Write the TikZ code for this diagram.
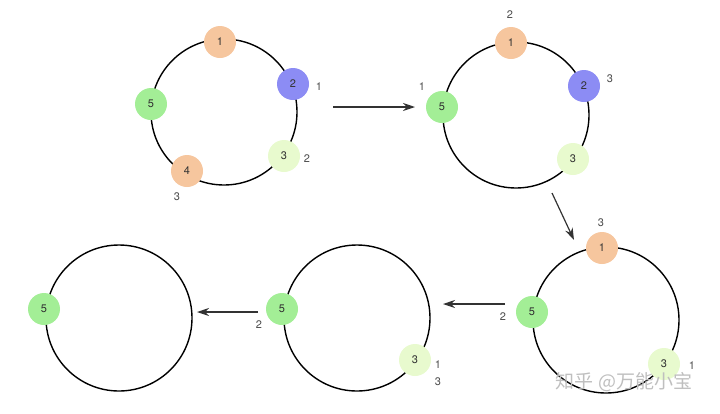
\documentclass[tikz,border=0pt]{standalone}
\usepackage{fontspec}
\setmainfont{TeX Gyre Heros}
\newfontfamily\cjk{Noto Sans CJK SC}
\usetikzlibrary{arrows.meta}

\definecolor{peach}{HTML}{F6C69E}
\definecolor{violet}{HTML}{8C8CF4}
\definecolor{leaf}{HTML}{A3EE96}
\definecolor{pale}{HTML}{E8FACE}

\tikzset{
  ring/.style={draw, circle, line width=1.4pt, minimum size=146pt, inner sep=0pt},
  ball/.style={circle, minimum size=32pt, inner sep=0pt, text=black!80,
    font=\fontsize{11}{13}\selectfont},
  tag/.style={text=black!70, font=\fontsize{11}{13}\selectfont},
  link/.style={-{Stealth[length=12pt,width=8pt]}, line width=1.2pt, black!80},
}

\begin{document}
\begin{tikzpicture}[x=1pt,y=-1pt]
\useasboundingbox (0,0) rectangle (720,413);

% first round
\node[ring] (r1) at (224,112) {};
\node[ball, fill=peach]  (r1a) at (220,42) {1};
\node[ball, fill=violet] (r1b) at (293,84) {2};
\node[ball, fill=pale]   (r1c) at (284,156) {3};
\node[ball, fill=peach]  (r1d) at (187,171) {4};
\node[ball, fill=leaf]   (r1e) at (151,104) {5};
\node[tag] (t1b) at (319,87) {1};
\node[tag] (t1c) at (307,159) {2};
\node[tag] (t1d) at (177,197) {3};

% second round
\node[ring] (r2) at (516,115) {};
\node[ball, fill=peach]  (r2a) at (511,43) {1};
\node[ball, fill=violet] (r2b) at (584,86) {2};
\node[ball, fill=pale]   (r2c) at (573,159) {3};
\node[ball, fill=leaf]   (r2e) at (442,107) {5};
\node[tag] (t2a) at (510,15) {2};
\node[tag] (t2b) at (610,79) {3};
\node[tag] (t2e) at (422,87) {1};

% third round
\node[ring] (r3) at (606,320) {};
\node[ball, fill=peach] (r3a) at (602,248) {1};
\node[ball, fill=pale]  (r3c) at (664,364) {3};
\node[ball, fill=leaf]  (r3e) at (532,312) {5};
\node[tag] (t3a) at (601,223) {3};
\node[tag] (t3c) at (692,366) {1};
\node[tag] (t3e) at (503,317) {2};

% fourth round
\node[ring] (r4) at (357,318) {};
\node[ball, fill=pale] (r4c) at (415,360) {3};
\node[ball, fill=leaf] (r4e) at (282,309) {5};
\node[tag] (t4c) at (438,365) {1};
\node[tag] (t4d) at (438,382) {3};
\node[tag] (t4e) at (259,325) {2};

% last one
\node[ring] (r5) at (119,318) {};
\node[ball, fill=leaf] (r5e) at (44,309) {5};

% arrows
\coordinate (s1) at (333,107);
\coordinate (e1) at (415,107);
\coordinate (s2) at (552,193);
\coordinate (e2) at (574,240);
\coordinate (s3) at (505,304);
\coordinate (e3) at (443,304);
\coordinate (s4) at (258,312);
\coordinate (e4) at (197,312);
\draw[link] (s1) -- (e1);
\draw[link] (s2) -- (e2);
\draw[link] (s3) -- (e3);
\draw[link] (s4) -- (e4);

\node[text=black!25, font=\cjk\fontsize{19}{20}\selectfont] (mark) at (624,382) {知乎 @万能小宝};
\end{tikzpicture}
\end{document}
